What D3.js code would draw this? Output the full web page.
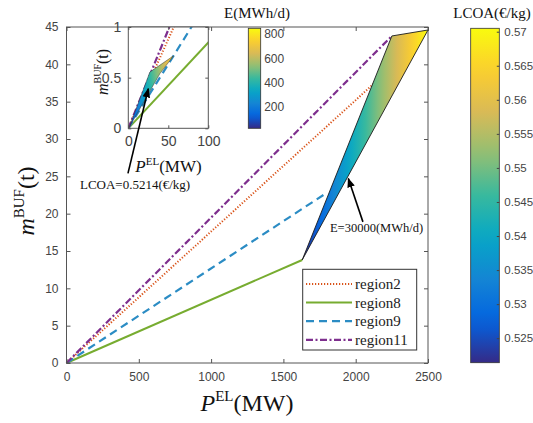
<!DOCTYPE html>
<html>
<head>
<meta charset="utf-8">
<script src="https://cdn.jsdelivr.net/npm/d3@7"></script>
<style>
body { margin: 0; background: #fff; }
svg text { font-family: "Liberation Sans", Arial, sans-serif; }
svg .serif { font-family: "Liberation Serif", "Times New Roman", serif; }
</style>
</head>
<body>
<svg id="chart" width="533" height="423"></svg>
<script>
// ---- data ----
const regionNames = ["region2", "region8", "region9", "region11"];
// each line goes from the origin to its end point (P_EL in MW, m_BUF in t)
const region2 = [[0, 0], [2170, 38.2]];
const region8 = [[0, 0], [1630, 13.8]];
const region9 = [[0, 0], [1800, 22.8]];
const region11 = [[0, 0], [2250, 43.8]];

// shaded feasible region in main plot (E = 30000 MWh/d), coloured by LCOA
const mainPatchP = [1630, 2250, 2500];
const mainPatchM = [13.8, 43.8, 44.6];
const mainPatchLCOA = [0.5214, 0.556, 0.5705];

// shaded region in the inset, coloured by E
const insetPatchP = [1.2, 27, 56.5, 39.5];
const insetPatchM = [0.01, 0.556, 0.715, 0.54];
const insetPatchE = [60, 430, 760, 520];

const xTicks = [0, 500, 1000, 1500, 2000, 2500];
const yTicks = [0, 5, 10, 15, 20, 25, 30, 35, 40, 45];
const xInsetTicks = [0, 50, 100];
const yInsetTicks = [0, 0.5, 1];
const lcoaTicks = [0.525, 0.53, 0.535, 0.54, 0.545, 0.55, 0.555, 0.56, 0.565, 0.57];
const eTicks = [200, 400, 600, 800];
const lcoaRange = [0.5214, 0.5705];
const eRange = [21, 847];

const parulaColors = ["#352a87", "#0363e1", "#1485d4", "#06a7c6", "#38b99e",
                      "#92bf73", "#d9ba56", "#fcce2e", "#f9fb0e"];

// ---- setup ----
const svg = d3.select("#chart");
const defs = svg.append("defs");
const parula = d3.piecewise(d3.interpolateRgb, parulaColors);

const x = d3.scaleLinear().domain([0, 2500]).range([66.5, 428]);
const y = d3.scaleLinear().domain([0, 45]).range([363, 27]);
const xi = d3.scaleLinear().domain([0, 100]).range([128.3, 208.3]);
const yi = d3.scaleLinear().domain([0, 1]).range([128.3, 27]);
const cLcoa = d3.scaleLinear().domain(lcoaRange).range([362.7, 28.3]);
const cE = d3.scaleLinear().domain(eRange).range([128.3, 28.3]);

const axisGray = "#555";
const textGray = "#444";

const series = [
    { name: regionNames[0], pts: region2, color: "#d95319", dash: "1.2,1.8", width: 2 },
    { name: regionNames[1], pts: region8, color: "#77ac30", dash: null, width: 2 },
    { name: regionNames[2], pts: region9, color: "#2b8cc4", dash: "8,5", width: 2.2 },
    { name: regionNames[3], pts: region11, color: "#7e2f8e", dash: "7,2.5,2,2.5", width: 2.2 }
];

defs.append("marker")
    .attr("id", "arrow")
    .attr("viewBox", "0 0 10 10")
    .attr("refX", 9).attr("refY", 5)
    .attr("markerWidth", 6).attr("markerHeight", 6)
    .attr("orient", "auto")
    .append("path").attr("d", "M0,1 L10,5 L0,9 z").attr("fill", "#000");

/**
 * Linear gradient that follows the colour plane through three vertices
 */
function patchGradient(id, pts, vals, domain) {
    const [p0, p1, p2] = pts;
    const [v0, v1, v2] = vals;
    const dx1 = p1[0] - p0[0], dy1 = p1[1] - p0[1], dv1 = v1 - v0;
    const dx2 = p2[0] - p0[0], dy2 = p2[1] - p0[1], dv2 = v2 - v0;
    const det = dx1 * dy2 - dx2 * dy1;
    const a = (dv1 * dy2 - dv2 * dy1) / det;
    const b = (dx1 * dv2 - dx2 * dv1) / det;
    const g2 = a * a + b * b;
    const s = (domain[0] - v0) / g2, e = (domain[1] - v0) / g2;
    const grad = defs.append("linearGradient")
        .attr("id", id)
        .attr("gradientUnits", "userSpaceOnUse")
        .attr("x1", p0[0] + a * s).attr("y1", p0[1] + b * s)
        .attr("x2", p0[0] + a * e).attr("y2", p0[1] + b * e);
    d3.range(0, 1.0001, 0.05).forEach(t => {
        grad.append("stop").attr("offset", t).attr("stop-color", parula(t));
    });
}

function drawLines(g, xs, ys) {
    const line = d3.line().x(d => xs(d[0])).y(d => ys(d[1]));
    g.selectAll("path.series")
        .data(series)
        .enter()
        .append("path")
        .attr("class", "series")
        .attr("d", d => line(d.pts))
        .attr("fill", "none")
        .attr("stroke", d => d.color)
        .attr("stroke-width", d => d.width)
        .attr("stroke-dasharray", d => d.dash);
}

function drawFrame(g, xs, ys, xt, yt, fmtX, fmtY, fontSize, tick) {
    const [x0, x1] = xs.range();
    const [y0, y1] = ys.range();
    const bottom = g.append("g").attr("transform", `translate(0,${y0})`)
        .call(d3.axisBottom(xs).tickValues(xt).tickFormat(fmtX).tickSize(-tick).tickSizeOuter(0).tickPadding(tick + 5));
    const top = g.append("g").attr("transform", `translate(0,${y1})`)
        .call(d3.axisTop(xs).tickValues(xt).tickFormat("").tickSize(-tick).tickSizeOuter(0));
    const left = g.append("g").attr("transform", `translate(${x0},0)`)
        .call(d3.axisLeft(ys).tickValues(yt).tickFormat(fmtY).tickSize(-tick).tickSizeOuter(0).tickPadding(tick + 4));
    const right = g.append("g").attr("transform", `translate(${x1},0)`)
        .call(d3.axisRight(ys).tickValues(yt).tickFormat("").tickSize(-tick).tickSizeOuter(0));
    [bottom, top, left, right].forEach(a => {
        a.select(".domain").remove();
        a.selectAll(".tick line").attr("stroke", axisGray);
        a.selectAll("text").attr("fill", textGray).style("font-size", fontSize + "px")
            .style("font-family", '"Liberation Sans", Arial, sans-serif');
    });
    g.append("rect")
        .attr("x", x0).attr("y", y1)
        .attr("width", x1 - x0).attr("height", y0 - y1)
        .attr("fill", "none").attr("stroke", axisGray).attr("stroke-width", 1);
}

// ---- main axes ----
const main = svg.append("g");
main.append("rect").attr("x", x(0)).attr("y", y(45))
    .attr("width", x(2500) - x(0)).attr("height", y(0) - y(45)).attr("fill", "#fff");
drawLines(main, x, y);

const mainPts = mainPatchP.map((p, i) => [x(p), y(mainPatchM[i])]);
patchGradient("gradMain", mainPts, mainPatchLCOA, lcoaRange);
main.append("path")
    .attr("d", d3.line()(mainPts) + "Z")
    .attr("fill", "url(#gradMain)")
    .attr("stroke", "#1a1a1a").attr("stroke-width", 0.9);

drawFrame(main, x, y, xTicks, yTicks, d3.format("d"), d3.format("d"), 12, 4);

// axis labels
const xLab = svg.append("text").attr("class", "serif")
    .attr("x", 247).attr("y", 411).attr("text-anchor", "middle")
    .style("font-size", "24px").attr("fill", "#111");
xLab.append("tspan").style("font-style", "italic").text("P");
xLab.append("tspan").attr("dy", -10).style("font-size", "15px").text("EL");
xLab.append("tspan").attr("dy", 10).text("(MW)");

const yLab = svg.append("text").attr("class", "serif")
    .attr("transform", "translate(34,201) rotate(-90)").attr("text-anchor", "middle")
    .style("font-size", "24px").attr("fill", "#111");
yLab.append("tspan").style("font-style", "italic").text("m");
yLab.append("tspan").attr("dy", -10).style("font-size", "15px").text("BUF");
yLab.append("tspan").attr("dy", 10).text("(t)");

// ---- legend ----
const legend = svg.append("g");
legend.append("rect")
    .attr("x", 302.7).attr("y", 269.3).attr("width", 114).attr("height", 80.7)
    .attr("fill", "#fff").attr("stroke", "#333").attr("stroke-width", 1);
series.forEach((s, i) => {
    const ly = 284 + i * 18.6;
    legend.append("line")
        .attr("x1", 306).attr("x2", 352).attr("y1", ly).attr("y2", ly)
        .attr("stroke", s.color).attr("stroke-width", s.width)
        .attr("stroke-dasharray", s.dash);
    legend.append("text").attr("class", "serif")
        .attr("x", 355).attr("y", ly + 5)
        .style("font-size", "15px").attr("fill", "#222")
        .text(s.name);
});

// ---- inset ----
const inset = svg.append("g");
defs.append("clipPath").attr("id", "insetClip")
    .append("rect").attr("x", xi(0)).attr("y", yi(1))
    .attr("width", xi(100) - xi(0)).attr("height", yi(0) - yi(1));
inset.append("rect").attr("x", xi(0)).attr("y", yi(1))
    .attr("width", xi(100) - xi(0)).attr("height", yi(0) - yi(1)).attr("fill", "#fff");
const insetPlot = inset.append("g").attr("clip-path", "url(#insetClip)");
drawLines(insetPlot, xi, yi);

const insetPts = insetPatchP.map((p, i) => [xi(p), yi(insetPatchM[i])]);
patchGradient("gradInset", insetPts, insetPatchE, eRange);
insetPlot.append("path")
    .attr("d", d3.line()(insetPts) + "Z")
    .attr("fill", "url(#gradInset)")
    .attr("stroke", "#333").attr("stroke-width", 0.5);

drawFrame(inset, xi, yi, xInsetTicks, yInsetTicks, d3.format("d"), d => d === 0.5 ? "0.5" : d3.format("d")(d), 14, 3);

const xiLab = svg.append("text").attr("class", "serif")
    .attr("x", 168.5).attr("y", 172).attr("text-anchor", "middle")
    .style("font-size", "17px").attr("fill", "#111");
xiLab.append("tspan").style("font-style", "italic").text("P");
xiLab.append("tspan").attr("dy", -7).style("font-size", "11px").text("EL");
xiLab.append("tspan").attr("dy", 7).text("(MW)");

const yiLab = svg.append("text").attr("class", "serif")
    .attr("transform", "translate(108,72) rotate(-90)").attr("text-anchor", "middle")
    .style("font-size", "16px").attr("fill", "#111");
yiLab.append("tspan").style("font-style", "italic").text("m");
yiLab.append("tspan").attr("dy", -7).style("font-size", "10px").text("BUF");
yiLab.append("tspan").attr("dy", 7).text("(t)");

// ---- colorbars ----
function colorbar(id, scale, x0, w, ticks, fmt, title, titleX, tickLen, pad, fontSize) {
    const [lo, hi] = scale.domain();
    const grad = defs.append("linearGradient").attr("id", id)
        .attr("x1", 0).attr("y1", 1).attr("x2", 0).attr("y2", 0);
    d3.range(0, 1.0001, 0.05).forEach(t => {
        grad.append("stop").attr("offset", t).attr("stop-color", parula(t));
    });
    const g = svg.append("g");
    g.append("rect")
        .attr("x", x0).attr("y", scale(hi))
        .attr("width", w).attr("height", scale(lo) - scale(hi))
        .attr("fill", `url(#${id})`).attr("stroke", "#333").attr("stroke-width", 0.8);
    const ax = g.append("g").attr("transform", `translate(${x0 + w},0)`)
        .call(d3.axisRight(scale).tickValues(ticks).tickFormat(fmt).tickSize(-tickLen).tickSizeOuter(0).tickPadding(tickLen + pad));
    ax.select(".domain").remove();
    ax.selectAll(".tick line").attr("stroke", "#444");
    ax.selectAll("text").attr("fill", textGray).style("font-size", fontSize + "px");
    svg.append("text").attr("class", "serif")
        .attr("x", titleX).attr("y", 18).attr("text-anchor", "middle")
        .style("font-size", "15px").attr("fill", "#111").text(title);
}
colorbar("cbLcoa", cLcoa, 470.7, 28.6, lcoaTicks, d => String(+d.toFixed(3)), "LCOA(€/kg)", 492, 2.5, 2.5, 11.5);
colorbar("cbE", cE, 248.3, 12.4, eTicks, d3.format("d"), "E(MWh/d)", 257, 0, 3.5, 12);

// ---- annotations ----
svg.append("line")
    .attr("x1", x(425)).attr("y1", y(25.4))
    .attr("x2", xi(25)).attr("y2", yi(0.39))
    .attr("stroke", "#000").attr("stroke-width", 1.6)
    .attr("marker-end", "url(#arrow)");
svg.append("text").attr("class", "serif")
    .attr("x", x(93)).attr("y", y(23.3))
    .style("font-size", "13px").attr("fill", "#111")
    .text("LCOA=0.5214(€/kg)");

svg.append("line")
    .attr("x1", x(2050)).attr("y1", y(18.9))
    .attr("x2", x(1949)).attr("y2", y(24.7))
    .attr("stroke", "#000").attr("stroke-width", 1.6)
    .attr("marker-end", "url(#arrow)");
svg.append("text").attr("class", "serif")
    .attr("x", x(1822)).attr("y", y(17.5))
    .style("font-size", "12.5px").attr("fill", "#111")
    .text("E=30000(MWh/d)");
</script>
</body>
</html>
